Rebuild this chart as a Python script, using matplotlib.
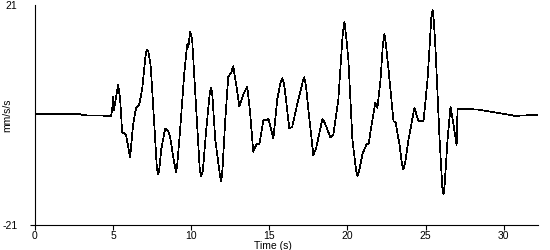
import matplotlib
matplotlib.use("Agg")
import matplotlib.pyplot as plt

# Data (time in s, acceleration in mm/s/s)
time_s = [0, 2.9, 3.0, 4.87, 4.94, 5.0, 5.06, 5.13, 5.32, 5.45, 5.58, 5.71, 5.83, 6.09, 6.28, 6.47,
          6.67, 6.86, 7.05, 7.12, 7.18, 7.25, 7.4, 7.5, 7.69, 7.8, 7.88, 7.95, 8.08, 8.33, 8.53, 8.65,
          8.85, 8.97, 9.04, 9.12, 9.29,
          9.55, 9.74, 9.81, 9.94, 10.06, 10.32, 10.55, 10.64, 10.75, 10.96, 11.2, 11.28, 11.36, 11.54,
          11.85, 11.92, 12.0, 12.18, 12.37,
          12.56, 12.69, 12.88, 13.08, 13.33, 13.59, 13.78, 13.97, 14.17, 14.36, 14.62, 14.81, 14.94,
          15.26, 15.51, 15.7, 15.83, 15.95, 16.03, 16.28, 16.47, 16.86, 17.15, 17.24, 17.35, 17.5,
          17.82, 18.01, 18.4, 18.59,
          18.91, 19.1, 19.42, 19.7, 19.81, 19.92, 20.06, 20.32, 20.55, 20.64, 20.75, 20.96, 21.22,
          21.35, 21.6, 21.79, 21.92,
          22.12, 22.27, 22.37, 22.47, 22.63, 22.95, 23.08, 23.33, 23.5, 23.59, 23.7, 23.91, 24.29,
          24.55, 24.87, 25.13, 25.37, 25.45, 25.53,
          25.64, 25.9, 26.08, 26.15, 26.22, 26.41, 26.6, 26.79, 26.99, 27.05, 28.33, 30.26, 30.77,
          31.09, 32.18]
velocity = [0.2, 0.2, -0.05, -0.15, 1.0, 3.5, 1.0, 2.4, 5.8, 3.0, -3.3, -3.5, -3.9, -8.1, -1.8, 1.4,
            2.0, 4.9, 10.6, 12.0, 12.5, 12.2, 9.5, 4.9, -4.7, -10.0, -11.3, -10.5, -6.6, -2.6, -3.1,
            -4.1, -8.1, -10.0, -10.9, -9.0, -2.8,
            7.7, 13.5, 12.9, 15.9, 14.4, 1.0, -10.5, -11.7, -10.5, -2.8, 4.5, 5.2, 3.5, -4.7,
            -11.8, -12.7, -10.5, -0.9, 7.3,
            8.1, 9.3, 5.8, 1.6, 3.9, 5.4, 0.1, -7.0, -5.6, -5.6, -1.0, -1.0, -0.7,
            -4.5, 3.0, 6.0, 7.0, 5.8, 3.9, -2.6, -2.2, 3.0, 6.5, 7.2, 5.5, 1.0,
            -7.7, -6.2, -0.7, -1.8,
            -4.3, -3.7, 3.0, 15.5, 17.7, 15.0, 10.6, -4.7, -10.5, -11.7, -10.6, -7.5, -5.6,
            -5.6, -0.9, 2.4, 1.4,
            6.8, 13.5, 15.4, 13.3, 8.7, -1.2, -1.4, -5.6, -9.5, -10.4, -9.0, -4.7, 1.4,
            -1.2, -1.2, 6.8, 18.5, 20.1, 18.0,
            12.5, -4.7, -14.0, -15.2, -13.5, -4.7, 1.6, -1.8, -5.8, 1.2, 1.05, 0.1, -0.2,
            -0.1, 0.0]

x_ticks = [0, 5, 10, 15, 20, 25, 30]
y_ticks = [-21, 21]

plt.rcParams['font.family'] = ['Liberation Sans', 'DejaVu Sans']

fig = plt.figure(figsize=(5.5, 2.5), dpi=100)
ax = fig.add_axes([35 / 550, 25 / 250, 503 / 550, 220 / 250])

ax.plot(time_s, velocity, color='black', linewidth=0.5, antialiased=False)

ax.set_xlim(0, 32.2)
ax.set_ylim(-21, 21)
ax.set_xticks(x_ticks)
ax.set_xticklabels([str(v) for v in x_ticks])
ax.set_yticks(y_ticks)
ax.set_yticklabels([str(v) for v in y_ticks])

for s in ['top', 'right']:
    ax.spines[s].set_visible(False)
for s in ['left', 'bottom']:
    ax.spines[s].set_linewidth(0.8)
    ax.spines[s].set_color('black')

ax.tick_params(axis='both', direction='out', length=3.6, width=0.8, labelsize=7.5, colors='black')
ax.tick_params(axis='x', pad=0.5)
ax.tick_params(axis='y', pad=9)
ax.yaxis.get_major_ticks()[1].tick1line.set_visible(False)

ax.set_xlabel('Time (s)', fontsize=7.5)
ax.xaxis.set_label_coords(0.473, -0.072)
ax.set_ylabel('mm/s/s', fontsize=7.5)
ax.yaxis.set_label_coords(-0.046, 0.5)

fig.savefig('out.png', dpi=100)
